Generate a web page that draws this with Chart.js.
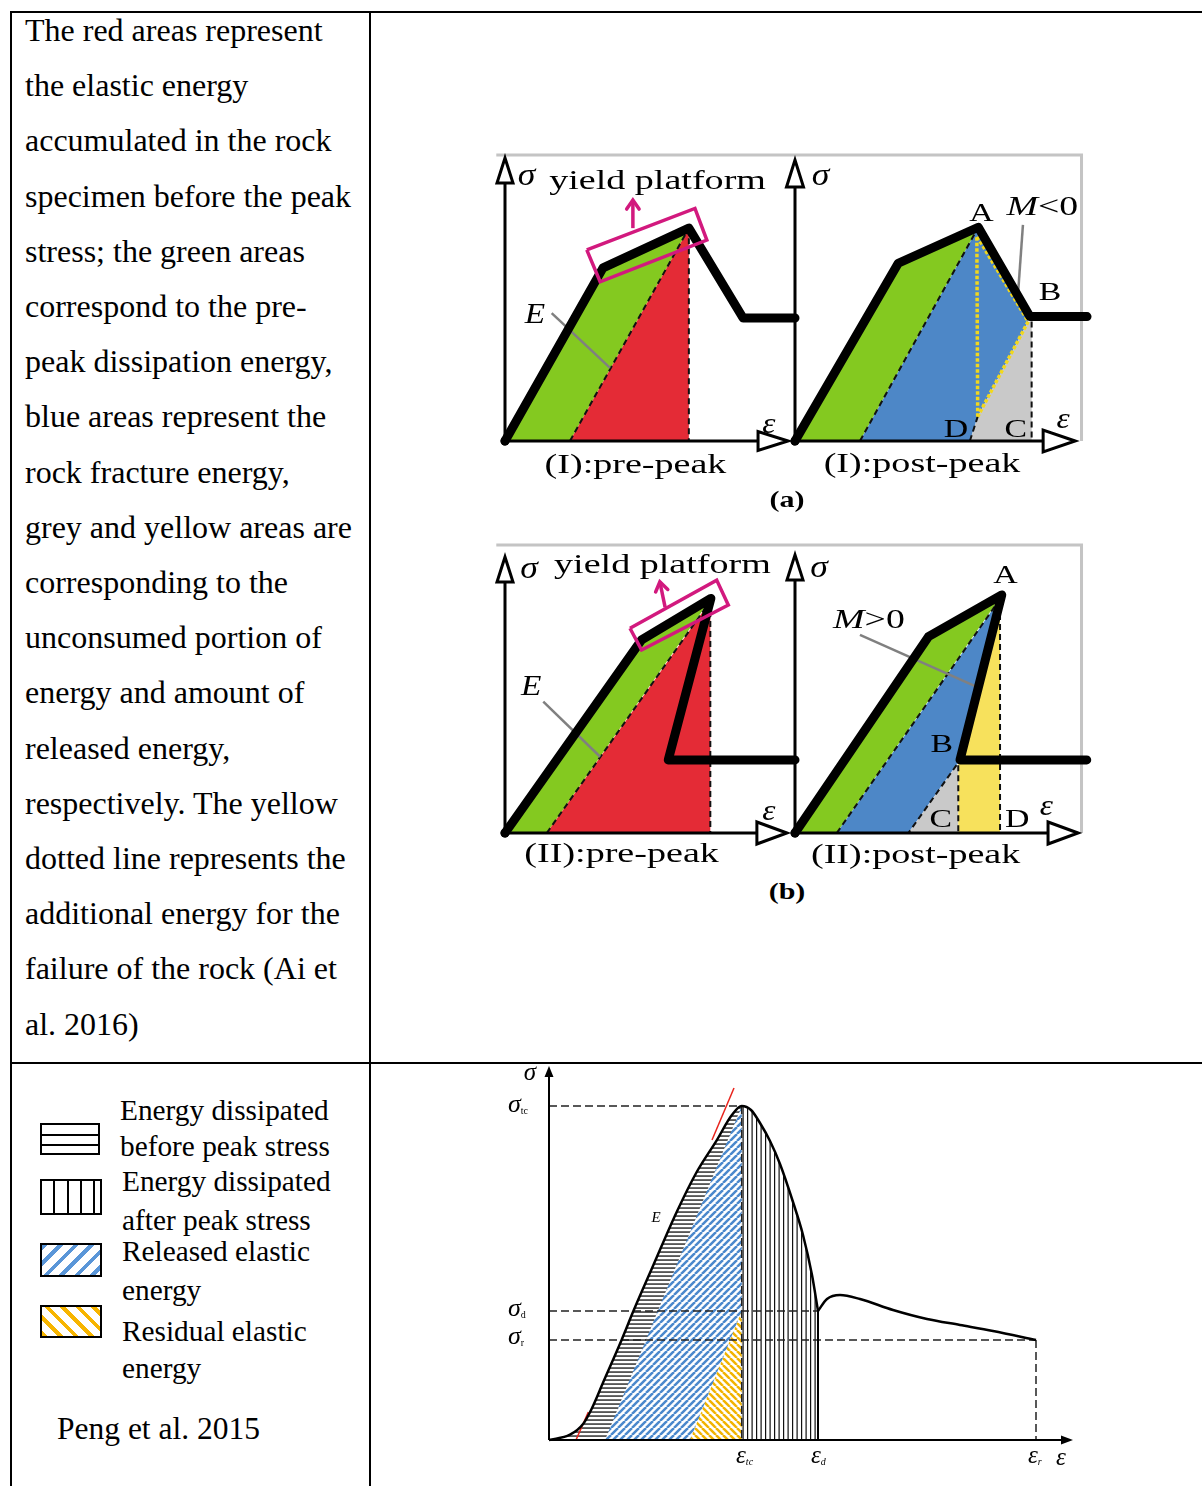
<!DOCTYPE html>
<html>
<head>
<meta charset="utf-8">
<script src="https://cdn.jsdelivr.net/npm/chart.js"></script>
<style>
body { margin:0; background:#fff; width:1202px; height:1486px; overflow:hidden; position:relative;
       font-family:"Liberation Serif","Times New Roman",serif; color:#000; }
.rule { position:absolute; background:#000; }
.ab { position:absolute; white-space:nowrap; line-height:1; }
canvas { position:absolute; }
#note { position:absolute; left:25px; top:2.9px; font-size:32px; line-height:55.2px; white-space:nowrap; }
.key { position:absolute; left:40px; width:62px; box-sizing:border-box; border:2px solid #000; }
.fig { position:absolute; font-weight:bold; font-size:24px; line-height:1; transform:translateX(-50%) scaleX(1.25); }
</style>
</head>
<body>
<div class="rule" style="left:10px;top:11px;width:1192px;height:2px"></div>
<div class="rule" style="left:10px;top:11px;width:2px;height:1475px"></div>
<div class="rule" style="left:369px;top:11px;width:2px;height:1475px"></div>
<div class="rule" style="left:10px;top:1062px;width:1192px;height:2px"></div>

<div id="note">The red areas represent<br>the elastic energy<br>accumulated in the rock<br>specimen before the peak<br>stress; the green areas<br>correspond to the pre-<br>peak dissipation energy,<br>blue areas represent the<br>rock fracture energy,<br>grey and yellow areas are<br>corresponding to the<br>unconsumed portion of<br>energy and amount of<br>released energy,<br>respectively. The yellow<br>dotted line represents the<br>additional energy for the<br>failure of the rock (Ai et<br>al. 2016)</div>

<div class="key" style="top:1123px;height:32px;width:60px;background:linear-gradient(#000,#000) 0 8.5px/100% 2px no-repeat,linear-gradient(#000,#000) 0 18.5px/100% 2px no-repeat"></div>
<div class="key" style="top:1179px;height:36px;background:repeating-linear-gradient(90deg,transparent 0 11.3px,#000 11.3px 13.3px)"></div>
<div class="key" style="top:1243px;height:34px;background:repeating-linear-gradient(135deg,#5a96d8 0 4px,#fff 4px 11px)"></div>
<div class="key" style="top:1305px;height:33px;background:repeating-linear-gradient(45deg,#f7b500 0 4px,#fff 4px 11px)"></div>

<div class="ab" style="left:120px;top:1095.5px;font-size:29.3px">Energy dissipated</div>
<div class="ab" style="left:120px;top:1132.2px;font-size:29.3px">before peak stress</div>
<div class="ab" style="left:122px;top:1167.2px;font-size:29.3px">Energy dissipated</div>
<div class="ab" style="left:122px;top:1205.5px;font-size:29.3px">after peak stress</div>
<div class="ab" style="left:122px;top:1237.2px;font-size:29.3px">Released elastic</div>
<div class="ab" style="left:122px;top:1275.5px;font-size:29.3px">energy</div>
<div class="ab" style="left:122px;top:1317.2px;font-size:29.3px">Residual elastic</div>
<div class="ab" style="left:122px;top:1353.5px;font-size:29.3px">energy</div>
<div class="ab" style="left:57px;top:1412.9px;font-size:31.5px">Peng et al. 2015</div>

<canvas id="aPre" width="330" height="355" style="left:485px;top:131px"></canvas>
<canvas id="aPost" width="330" height="355" style="left:775px;top:131px"></canvas>
<canvas id="bPre" width="330" height="355" style="left:485px;top:523px"></canvas>
<canvas id="bPost" width="330" height="355" style="left:775px;top:523px"></canvas>
<canvas id="energy" width="595" height="430" style="left:499px;top:1050px"></canvas>

<div class="fig" style="left:787px;top:487px">(a)</div>
<div class="fig" style="left:787px;top:879px">(b)</div>

<script>
// ---------- figure (a): case I, stress-strain in panel units [strain, stress] ----------
const aPreCurve  = [[0,0],[3.38,5.97],[6.34,7.34],[8.21,4.24],[10.0,4.24]];
const aPreGreen  = [[0,0],[3.38,5.97],[6.34,7.34],[2.24,0]];
const aPreRed    = [[2.24,0],[6.34,7.34],[6.34,0]];
const aPreUnload = [[2.24,0],[6.34,7.34]];
const aPreDrop   = [[6.34,7.34],[6.34,0]];
const aPreYield  = [[2.82,6.59],[3.28,5.49],[6.96,6.93],[6.55,8.02],[2.82,6.59]];
const aPreArrow  = [[4.41,7.34],[4.41,8.31]];
const aPreLeader = [[1.61,4.41],[3.62,2.52]];

const aPostCurve  = [[0,0],[3.56,6.13],[6.32,7.37],[8.10,4.29],[10.07,4.29]];
const aPostGreen  = [[0,0],[3.56,6.13],[6.32,7.37],[2.24,0]];
const aPostBlue   = [[2.24,0],[6.32,7.37],[8.04,4.12],[6.30,0.84],[6.03,0]];
const aPostGrey   = [[6.03,0],[6.30,0.84],[8.04,4.12],[8.16,4.12],[8.16,0]];
const aPostUnload = [[2.24,0],[6.32,7.37]];
const aPostDP     = [[6.03,0],[6.30,0.84]];
const aPostCdrop  = [[8.16,4.12],[8.16,0]];
const aPostExtra  = [[6.30,0.84],[6.27,7.07],[8.04,4.12],[6.30,0.84]];
const aPostLeader = [[7.86,7.45],[7.70,5.21]];

// ---------- figure (b): case II ----------
const bPreCurve  = [[0,0],[4.71,6.66],[7.10,8.09],[5.63,2.52],[10.0,2.52]];
const bPreGreen  = [[0,0],[4.71,6.66],[7.10,8.09],[1.44,0]];
const bPreRed    = [[1.44,0],[7.08,8.0],[7.08,0]];
const bPreUnload = [[1.44,0],[7.08,8.0]];
const bPreDrop   = [[7.08,8.0],[7.08,0]];
const bPreYield  = [[4.31,7.06],[4.71,6.31],[7.70,7.86],[7.30,8.72],[4.31,7.06]];
const bPreArrow  = [[5.52,7.79],[5.34,8.66]];
const bPreLeader = [[1.32,4.53],[3.28,2.63]];

const bPostCurve  = [[0,0],[4.60,6.77],[7.13,8.21],[5.69,2.52],[10.06,2.52]];
const bPostGreen  = [[0,0],[4.60,6.77],[7.13,8.21],[1.44,0]];
const bPostBlue   = [[1.44,0],[7.02,8.0],[5.69,2.52],[3.91,0]];
const bPostGrey   = [[3.91,0],[5.57,2.34],[5.63,2.34],[5.63,0]];
const bPostYellow = [[5.63,0],[5.63,2.52],[7.07,8.0],[7.07,0]];
const bPostUnload = [[1.44,0],[7.02,8.0]];
const bPostBC     = [[5.57,2.34],[3.91,0]];
const bPostCdrop  = [[5.63,2.34],[5.63,0]];
const bPostDdrop  = [[7.07,7.9],[7.07,0]];
const bPostLeader = [[2.24,6.83],[6.27,5.04]];

// ---------- Peng et al. 2015 curve ----------
const prePeak  = [[0,0],[2.1,0.53],[3.43,1.63],[4.27,3.13],[5.43,5.8],[7.27,10.03],[8.43,12.87],[10.43,17.47],[12.77,22.8],[14.77,26.8],[16.77,29.97],[18.27,32.47],[19.27,33.4]];
const postPeak = [[19.27,33.4],[20.2,33.0],[21.1,31.7],[22.1,29.9],[23.1,27.6],[24.4,23.8],[25.4,20.5],[26.3,16.5],[26.9,12.9]];
const residual = [[26.9,12.9],[27.8,14.1],[29.1,14.5],[31.1,14.1],[34.4,13.0],[37.8,12.1],[41.1,11.5],[44.4,10.9],[48.7,10.0]];
const releasedPart = [[5.6,0],[19.27,33.4],[19.27,0]];
const residualPart = [[14.1,0],[19.27,12.9],[19.27,0]];
const tangentTop   = [[16.3,30.0],[18.5,35.2]];
const tangentFoot  = [[2.7,0],[3.93,2.8]];
const markNames   = ['tc','d','r'];
const strainMarks = [19.27, 26.9, 48.7];
const stressMarks = [33.4, 12.9, 10.0];

const FONT = '"Liberation Serif","Times New Roman",serif';
const GREEN = '#84c920', RED = '#e42b36', BLUE = '#4d87c7', GREY = '#c9c9c9', YELLOW = '#f7e15c', PINK = '#d2197e';

function hatch(w, h, paint) {
    const c = document.createElement('canvas');
    c.width = w; c.height = h;
    const g = c.getContext('2d');
    g.fillStyle = '#fff';
    g.fillRect(0, 0, w, h);
    paint(g);
    return g.createPattern(c, 'repeat');
}
const hatchH = hatch(8, 4, g => { g.fillStyle = '#111'; g.fillRect(0, 1.4, 8, 1.3); });
const hatchV = hatch(9, 8, g => { g.fillStyle = '#111'; g.fillRect(0.5, 0, 1.2, 8); g.fillRect(5, 0, 1.2, 8); });
function diag(color, up) {
    return hatch(7, 7, g => {
        g.strokeStyle = color; g.lineWidth = 2.5;
        for (let k = -1; k <= 1; k++) {
            g.beginPath();
            if (up) { g.moveTo(k * 7, 7); g.lineTo(k * 7 + 7, 0); }
            else { g.moveTo(k * 7, 0); g.lineTo(k * 7 + 7, 7); }
            g.stroke();
        }
    });
}
const hatchBlue = diag('#4a88cc', true);
const hatchGold = diag('#f2b300', false);

function ds(arr, o) {
    return Object.assign({
        data: arr.map(p => ({x: p[0], y: p[1]})),
        pointRadius: 0, borderWidth: 0, borderColor: 'rgba(0,0,0,0)', fill: false, clip: false
    }, o);
}
const area = (arr, color) => ds(arr, {fill: 'shape', backgroundColor: color});
const line = (arr, color, width, dash, extra) =>
    ds(arr, Object.assign({borderColor: color, borderWidth: width, borderDash: dash || []}, extra));
const thick = arr => line(arr, '#000', 9, [], {borderJoinStyle: 'round', borderCapStyle: 'round'});
const dashed = arr => line(arr, '#111', 2, [6, 4]);
const dotted = arr => line(arr, '#f2d81c', 3.5, [3.5, 2]);

function drawRich(ctx, x, y, parts, sx, align) {
    let w = 0;
    parts.forEach(p => {
        ctx.font = (p.it ? 'italic ' : '') + p.size + 'px ' + FONT;
        p.w = ctx.measureText(p.s).width;
        w += p.w;
    });
    let cx = align === 'left' ? 0 : -w / 2;
    ctx.save();
    ctx.translate(x, y);
    ctx.scale(sx, 1);
    ctx.fillStyle = '#000';
    ctx.textAlign = 'left';
    ctx.textBaseline = 'alphabetic';
    parts.forEach(p => {
        ctx.font = (p.it ? 'italic ' : '') + p.size + 'px ' + FONT;
        ctx.fillText(p.s, cx, p.dy || 0);
        cx += p.w;
    });
    ctx.restore();
}

function head(ctx, tip, dir, len, half, solid) {
    ctx.beginPath();
    if (dir === 'up') {
        ctx.moveTo(tip[0], tip[1]); ctx.lineTo(tip[0] - half, tip[1] + len); ctx.lineTo(tip[0] + half, tip[1] + len);
    } else {
        ctx.moveTo(tip[0], tip[1]); ctx.lineTo(tip[0] - len, tip[1] - half); ctx.lineTo(tip[0] - len, tip[1] + half);
    }
    ctx.closePath();
    ctx.fillStyle = solid ? '#000' : '#fff';
    ctx.fill();
    if (!solid) ctx.stroke();
}

function decoPlugin(cfg) {
    return {
        id: 'deco',
        beforeDatasetsDraw(chart) {
            const ctx = chart.ctx, X = v => chart.scales.x.getPixelForValue(v), Y = v => chart.scales.y.getPixelForValue(v);
            const f = cfg.frame;
            if (!f) return;
            ctx.save();
            ctx.strokeStyle = '#c4c4c4';
            ctx.lineWidth = 3;
            ctx.beginPath();
            ctx.moveTo(X(f.from), Y(f.top));
            ctx.lineTo(X(f.to), Y(f.top));
            if (f.right) ctx.lineTo(X(f.to), Y(0));
            ctx.stroke();
            ctx.restore();
        },
        afterDatasetsDraw(chart) {
            const ctx = chart.ctx, X = v => chart.scales.x.getPixelForValue(v), Y = v => chart.scales.y.getPixelForValue(v);
            const a = cfg.axes, ox = X(0), oy = Y(0);
            const solid = a.style === 'solid';
            ctx.save();
            ctx.strokeStyle = '#000';
            ctx.lineWidth = a.lw;
            ctx.lineJoin = 'miter';
            ctx.beginPath();
            ctx.moveTo(ox, oy); ctx.lineTo(ox, Y(a.y) + a.yLen * (solid ? 0.5 : 1));
            ctx.moveTo(ox, oy); ctx.lineTo(X(a.x) - a.xLen * (solid ? 0.5 : 1), oy);
            ctx.stroke();
            head(ctx, [ox, Y(a.y)], 'up', a.yLen, a.yHalf, solid);
            head(ctx, [X(a.x), oy], 'right', a.xLen, a.xHalf, solid);
            if (a.dot) {
                ctx.beginPath(); ctx.arc(ox, oy, a.dot, 0, Math.PI * 2); ctx.fillStyle = '#000'; ctx.fill();
            }
            // arrow heads on flagged datasets
            chart.data.datasets.forEach(d => {
                if (!d.head) return;
                const n = d.data.length, p = d.data[n - 1], q = d.data[n - 2];
                const px = X(p.x), py = Y(p.y), ang = Math.atan2(py - Y(q.y), px - X(q.x));
                ctx.strokeStyle = d.borderColor;
                ctx.lineWidth = d.borderWidth;
                ctx.lineCap = 'round';
                ctx.beginPath();
                ctx.moveTo(px - d.head * Math.cos(ang - 0.6), py - d.head * Math.sin(ang - 0.6));
                ctx.lineTo(px, py);
                ctx.lineTo(px - d.head * Math.cos(ang + 0.6), py - d.head * Math.sin(ang + 0.6));
                ctx.stroke();
            });
            ctx.restore();
            cfg.labels.forEach(l => drawRich(ctx, X(l.u), Y(l.v), l.parts, l.sx, l.align));
        }
    };
}

function makeChart(id, xMax, yMax, pad, layers, deco) {
    layers.forEach((d, i) => { d.order = layers.length - i; });
    return new Chart(document.getElementById(id), {
        type: 'line',
        data: {datasets: layers},
        options: {
            responsive: false,
            animation: false,
            events: [],
            layout: {padding: pad},
            scales: {
                x: {type: 'linear', display: false, min: 0, max: xMax},
                y: {type: 'linear', display: false, min: 0, max: yMax}
            },
            plugins: {legend: {display: false}, tooltip: {enabled: false}}
        },
        plugins: [decoPlugin(deco)]
    });
}

// label helpers
const L = (u, v, s, size, sx, it) => ({u, v, sx, align: 'center', parts: [{s, size, it}]});
const sig = (u, v) => L(u, v, 'σ', 31, 1.15, true);
const eps = (u, v) => L(u, v, 'ε', 29, 1.15, true);
const letter = (u, v, s) => L(u, v, s, 26, 1.3, false);
const title = (u, v, s) => L(u, v, s, 28, 1.36, false);
const moment = (u, v, s) => ({u, v, sx: 1.35, align: 'center', parts: [{s: 'M', size: 28, it: true}, {s, size: 28}]});

const PAD = {left: 20, right: 20, top: 20, bottom: 45};
const hollow = (x, y, xLen, xHalf, yLen, yHalf) => ({style: 'hollow', x, y, xLen, xHalf, yLen, yHalf, lw: 3, dot: 4.5});

makeChart('aPre', 10, 10, PAD, [
    area(aPreGreen, GREEN), area(aPreRed, RED),
    dashed(aPreUnload), dashed(aPreDrop),
    line(aPreLeader, '#808080', 2.5),
    thick(aPreCurve),
    line(aPreYield, PINK, 3.5, [], {borderJoinStyle: 'miter'}),
    line(aPreArrow, PINK, 3.5, [], {head: 11})
], {
    axes: hollow(9.76, 9.76, 30, 9.5, 25, 8),
    frame: {top: 9.86, from: -0.3, to: 10},
    labels: [sig(0.74, 8.83), title(5.26, 8.68, 'yield platform'), L(1.03, 4.07, 'E', 29, 1.15, true),
             eps(9.1, 0.28), title(4.5, -1.09, '(I):pre-peak')]
});

makeChart('aPost', 10, 10, PAD, [
    area(aPostGreen, GREEN), area(aPostBlue, BLUE), area(aPostGrey, GREY),
    dashed(aPostUnload), dashed(aPostDP), dashed(aPostCdrop),
    dotted(aPostExtra),
    line(aPostLeader, '#808080', 2.5),
    thick(aPostCurve)
], {
    axes: hollow(9.66, 9.69, 32, 11, 27, 8.5),
    frame: {top: 9.86, from: 0, to: 9.88, right: true},
    labels: [sig(0.88, 8.83), letter(6.43, 7.6, 'A'), moment(8.53, 7.79, '<0'), letter(8.79, 4.86, 'B'),
             letter(5.55, 0.15, 'D'), letter(7.61, 0.15, 'C'), eps(9.24, 0.45), title(4.38, -1.06, '(I):post-peak')]
});

makeChart('bPre', 10, 10, PAD, [
    area(bPreGreen, GREEN), area(bPreRed, RED),
    dashed(bPreUnload), dashed(bPreDrop),
    line(bPreLeader, '#808080', 2.5),
    thick(bPreCurve),
    line(bPreYield, PINK, 3.5, [], {borderJoinStyle: 'miter'}),
    line(bPreArrow, PINK, 3.5, [], {head: 11})
], {
    axes: hollow(9.72, 9.52, 30, 11, 25, 8),
    frame: {top: 9.93, from: -0.3, to: 10},
    labels: [sig(0.83, 8.79), title(5.43, 8.95, 'yield platform'), L(0.9, 4.76, 'E', 29, 1.15, true),
             eps(9.1, 0.45), title(4.02, -0.99, '(II):pre-peak')]
});

makeChart('bPost', 10, 10, PAD, [
    area(bPostGreen, GREEN), area(bPostBlue, BLUE), area(bPostGrey, GREY), area(bPostYellow, YELLOW),
    dashed(bPostUnload), dashed(bPostBC), dashed(bPostCdrop), dashed(bPostDdrop),
    line(bPostLeader, '#808080', 2.5),
    thick(bPostCurve)
], {
    axes: hollow(9.76, 9.59, 30, 11, 25, 8),
    frame: {top: 9.93, from: 0, to: 9.88, right: true},
    labels: [sig(0.83, 8.83), letter(7.26, 8.61, 'A'), moment(2.55, 7.07, '>0'), letter(5.06, 2.8, 'B'),
             letter(5.03, 0.22, 'C'), letter(7.66, 0.22, 'D'), eps(8.67, 0.62), title(4.16, -1.03, '(II):post-peak')]
});

// Peng et al. energy diagram
const smooth = {cubicInterpolationMode: 'monotone'};
const guides = [];
stressMarks.forEach((s, i) => guides.push(line([[0, s], [strainMarks[i], s]], '#222', 1.5, [8, 4])));
guides.push(line([[strainMarks[0], stressMarks[0]], [strainMarks[0], 0]], '#222', 1.5, [8, 4]));
guides.push(line([[strainMarks[2], stressMarks[2]], [strainMarks[2], 0]], '#222', 1.5, [8, 4]));
guides.push(line([[strainMarks[1], stressMarks[1]], [strainMarks[1], 0]], '#000', 2));

const sigmaLab = (v, sub) => ({u: -4.1, v, sx: 1, align: 'left', parts: [{s: 'σ', size: 26, it: true}, {s: sub, size: 10, dy: 2}]});
const epsLab = (u, sub) => ({u, v: -2.3, sx: 1, align: 'left', parts: [{s: 'ε', size: 25, it: true}, {s: sub, size: 10, it: true, dy: 2}]});

makeChart('energy', 52.5, 37, {left: 50, right: 20, top: 20, bottom: 40}, [
    ds(prePeak, Object.assign({fill: 'origin', backgroundColor: hatchH}, smooth)),
    ds(postPeak, Object.assign({fill: 'origin', backgroundColor: hatchV}, smooth)),
    area(releasedPart, hatchBlue),
    area(residualPart, hatchGold),
    ...guides,
    line(tangentTop, '#e8231c', 1.5),
    line(tangentFoot, '#e8231c', 1.5),
    line(prePeak.concat(postPeak.slice(1)), '#000', 2.5, [], smooth),
    line(residual, '#000', 2.5, [], smooth)
], {
    axes: {style: 'solid', x: 52.4, y: 37.4, xLen: 12, xHalf: 4.5, yLen: 11, yHalf: 4.5, lw: 2},
    labels: [
        L(-1.9, 36.0, 'σ', 25, 1, true),
        sigmaLab(32.8, markNames[0]), sigmaLab(12.4, markNames[1]), sigmaLab(9.6, markNames[2]),
        epsLab(18.7, markNames[0]), epsLab(26.2, markNames[1]), epsLab(47.9, markNames[2]),
        {u: 50.7, v: -2.5, sx: 1, align: 'left', parts: [{s: 'ε', size: 25, it: true}]},
        L(10.7, 21.8, 'E', 15, 1, true)
    ]
});
</script>
</body>
</html>
